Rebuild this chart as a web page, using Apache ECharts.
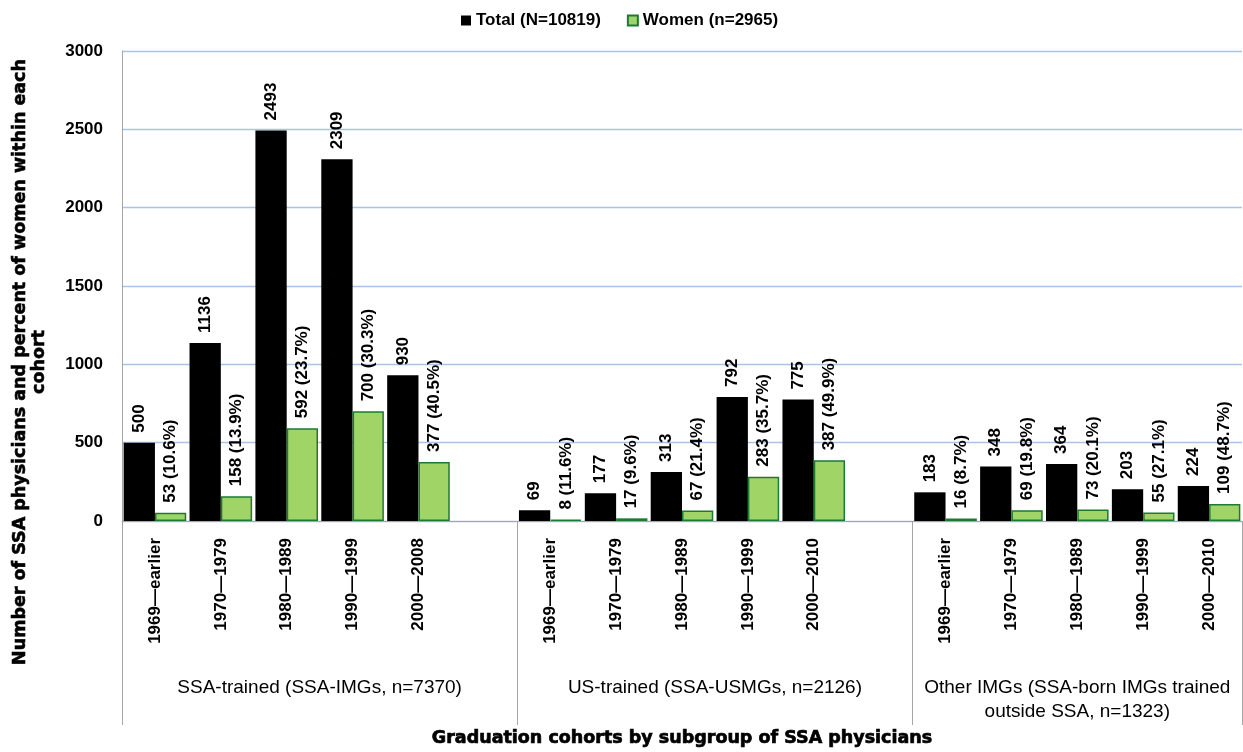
<!DOCTYPE html>
<html>
<head>
<meta charset="utf-8">
<script src="https://cdn.jsdelivr.net/npm/echarts@6/dist/echarts.min.js"></script>
<style>
html,body{margin:0;padding:0;background:#fff;}
#chart{width:1243px;height:752px;}
</style>
</head>
<body>
<div id="chart"></div>
<script>
// ---- data ----
var categories = ['1969—earlier','1970—1979','1980—1989','1990—1999','2000—2008','',
                  '1969—earlier','1970—1979','1980—1989','1990—1999','2000—2010','',
                  '1969—earlier','1970—1979','1980—1989','1990—1999','2000—2010'];
var totals = [500,1136,2493,2309,930,null, 69,177,313,792,775,null, 183,348,364,203,224];
var women  = [53,158,592,700,377,null, 8,17,67,283,387,null, 16,69,73,55,109];
var womenPct = [10.6,13.9,23.7,30.3,40.5,null, 11.6,9.6,21.4,35.7,49.9,null, 8.7,19.8,20.1,27.1,48.7];
var groupNames = ['SSA-trained (SSA-IMGs, n=7370)','US-trained (SSA-USMGs, n=2126)','Other IMGs (SSA-born IMGs trained\noutside SSA, n=1323)'];
var groupCenters = [3, 9, 14.5];
var groupBounds = [0, 6, 12, 17];
var yTicks = {min:0, max:3000, interval:500};
var seriesNames = ['Total (N=10819)','Women (n=2965)'];

var FONT = 'Liberation Sans, Arial, sans-serif';
var HEAVY = 'DejaVu Sans, sans-serif';
var chart = echarts.init(document.getElementById('chart'), null, {renderer:'canvas'});
var option = {
  animation:false,
  backgroundColor:'#fff',
  legend:{
    top:7, left:456, itemWidth:10, itemHeight:10, itemGap:26,
    icon:'rect',
    textStyle:{fontFamily:FONT,fontSize:17,fontWeight:'bold',color:'#000'},
    data:seriesNames
  },
  grid:{left:122,right:1,top:51,bottom:231,containLabel:false,outerBoundsMode:'none'},
  xAxis:[{
    type:'category', data:categories, position:'bottom',
    axisTick:{show:false},
    axisLine:{lineStyle:{color:'#a6a6a6',width:1}},
    axisLabel:{rotate:90,interval:0,margin:17,fontFamily:FONT,fontSize:17,fontWeight:'bold',color:'#000'}
  },{
    type:'value', min:groupBounds[0], max:groupBounds[groupBounds.length-1], position:'bottom',
    axisLine:{show:false}, splitLine:{show:false},
    axisTick:{show:true, customValues:groupBounds, length:204, lineStyle:{color:'#a6a6a6',width:1}},
    axisLabel:{customValues:groupCenters, margin:155, fontFamily:FONT, fontSize:19, lineHeight:24, color:'#000', align:'center',
      formatter:function(v){var i=groupCenters.indexOf(v);return i>=0?groupNames[i]:'';}},
    name:'Graduation cohorts by subgroup of SSA physicians',
    nameLocation:'middle', nameGap:207,
    nameTextStyle:{fontFamily:HEAVY,fontSize:17.5,fontWeight:'bold',color:'#000',textBorderColor:'#000',textBorderWidth:0.7}
  }],
  yAxis:{
    type:'value', min:yTicks.min, max:yTicks.max, interval:yTicks.interval,
    axisLine:{show:true,lineStyle:{color:'#a6a6a6'}},
    axisTick:{show:false},
    splitLine:{lineStyle:{color:'#a9c4e6',width:1.3}},
    axisLabel:{margin:19,fontFamily:FONT,fontSize:17,fontWeight:'bold',color:'#000',
      formatter:function(v){return String(v);}},
    name:'Number of SSA physicians and percent of women within each\ncohort',
    nameLocation:'middle', nameGap:73,
    nameTextStyle:{fontFamily:HEAVY,fontSize:17.5,fontWeight:'bold',color:'#000',lineHeight:19,align:'center',
      textBorderColor:'#000',textBorderWidth:0.6,padding:[0,152,0,0]}
  },
  series:[{
    name:seriesNames[0], type:'bar', xAxisIndex:0, data:totals,
    barGap:'0%', barCategoryGap:'5%',
    itemStyle:{color:'#000'},
    label:{show:true,position:'top',rotate:90,align:'left',verticalAlign:'middle',distance:10,
      fontFamily:FONT,fontSize:17,fontWeight:'bold',color:'#000',
      formatter:function(p){return p.value==null?'':String(p.value);}}
  },{
    name:seriesNames[1], type:'bar', xAxisIndex:0, data:women,
    barGap:'0%', barCategoryGap:'5%',
    itemStyle:{color:'#a0d466',borderColor:'#1d7a32',borderWidth:1.5},
    label:{show:true,position:'top',rotate:90,align:'left',verticalAlign:'middle',distance:10,
      fontFamily:FONT,fontSize:17,fontWeight:'bold',color:'#000',
      formatter:function(p){return p.value==null?'':p.value+' ('+womenPct[p.dataIndex].toFixed(1)+'%)';}}
  }]
};
chart.setOption(option);
</script>
</body>
</html>
